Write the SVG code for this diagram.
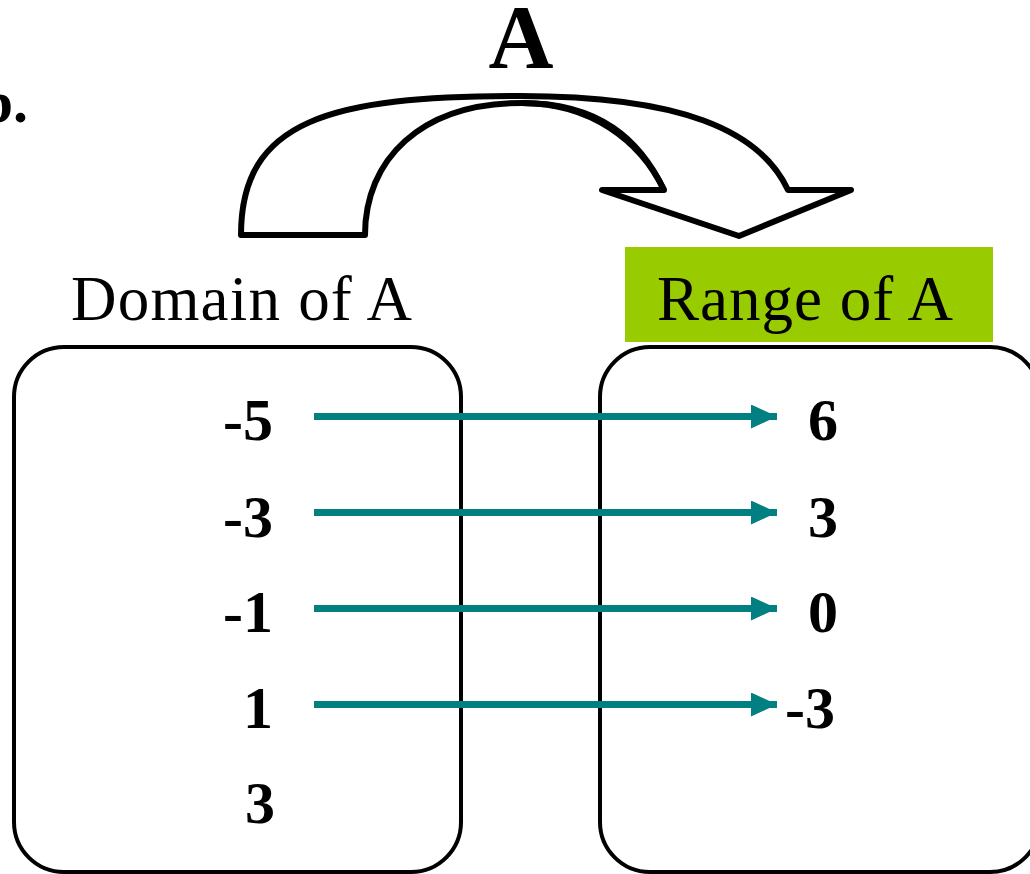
<svg xmlns="http://www.w3.org/2000/svg" width="1030" height="874" viewBox="0 0 1030 874">
<defs>
<style>
.lbl{font-family:"Liberation Serif","Times New Roman",serif;font-size:63px;fill:#000}
.num{font-family:"Liberation Serif","Times New Roman",serif;font-size:60px;font-weight:bold;fill:#000}
.box{fill:#fff;stroke:#000;stroke-width:4}
.conn{stroke:#008080;stroke-width:7;fill:none}
.curve{fill:#fff;stroke:#000;stroke-width:6;stroke-linejoin:round}
</style>
<marker id="ah" markerUnits="userSpaceOnUse" markerWidth="26" markerHeight="26" refX="26" refY="12" orient="auto">
<path d="M0,0 L26,12 L0,24 Z" fill="#008080"/>
</marker>
</defs>
<rect width="1030" height="874" fill="#fff"/>
<text class="num" x="28" y="122" text-anchor="end" font-size="64">b.</text>
<g id="curved-arrow">
<path class="curve" d="M241,235 C241,120 330,96 520,96 C680,96 760,130 788,190 L851,190 L739,236 L602,190 L664,190 C640,140 590,103 522,103 C420,103 365,160 365,235 Z"/>
<path class="curve" fill="none" d="M522,103 C600,103 640,140 664,190" style="fill:none"/>
<text x="521" y="68" text-anchor="middle" style="font-family:'Liberation Serif','Times New Roman',serif;font-weight:bold;font-size:90px">A</text>
</g>
<g id="domain">
<rect class="box" x="14" y="347" width="447" height="525" rx="50" ry="50"/>
<text class="lbl" x="71" y="320" textLength="341">Domain of A</text>
<text class="num" x="273" y="440" text-anchor="end">-5</text>
<text class="num" x="273" y="537" text-anchor="end">-3</text>
<text class="num" x="273" y="632" text-anchor="end">-1</text>
<text class="num" x="273" y="728" text-anchor="end">1</text>
<text class="num" x="275" y="823" text-anchor="end">3</text>
</g>
<g id="range">
<rect class="box" x="600" y="347" width="440" height="525" rx="50" ry="50"/>
<rect x="625" y="247" width="368" height="95" fill="#99cc00"/>
<text class="lbl" x="657" y="320" textLength="296">Range of A</text>
<text class="num" x="808" y="440">6</text>
<text class="num" x="808" y="537">3</text>
<text class="num" x="808" y="632">0</text>
<text class="num" x="785" y="728">-3</text>
</g>
<g id="connectors">
<line class="conn" x1="314" y1="416.5" x2="777" y2="416.5" marker-end="url(#ah)"/>
<line class="conn" x1="314" y1="512.5" x2="777" y2="512.5" marker-end="url(#ah)"/>
<line class="conn" x1="314" y1="608.5" x2="777" y2="608.5" marker-end="url(#ah)"/>
<line class="conn" x1="314" y1="704.5" x2="777" y2="704.5" marker-end="url(#ah)"/>
</g>
</svg>
